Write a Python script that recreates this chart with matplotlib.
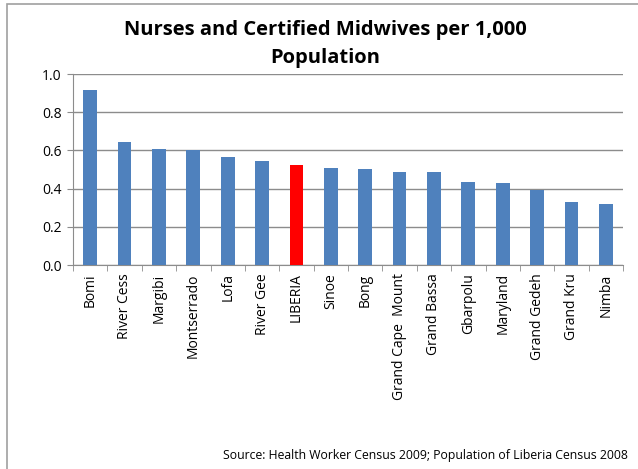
import matplotlib
matplotlib.use("Agg")
import matplotlib.pyplot as plt
from matplotlib.patches import Rectangle
import numpy as np

counties = ["Bomi", "River Cess", "Margibi", "Montserrado", "Lofa", "River Gee",
            "LIBERIA", "Sinoe", "Bong", "Grand Cape  Mount", "Grand Bassa",
            "Gbarpolu", "Maryland", "Grand Gedeh", "Grand Kru", "Nimba"]
values = [0.914, 0.642, 0.605, 0.600, 0.563, 0.544, 0.523, 0.509, 0.502,
          0.486, 0.486, 0.437, 0.430, 0.395, 0.332, 0.318]
yticks = [0.0, 0.2, 0.4, 0.6, 0.8, 1.0]

plt.rcParams['font.family'] = ['Open Sans', 'DejaVu Sans']

fig = plt.figure(figsize=(6.38, 4.69), dpi=100)
ax = fig.add_axes([73/638, 1 - 265/469, 550/638, 191/469])

colors = ['#FF0000' if c == 'LIBERIA' else '#4F81BD' for c in counties]
x = np.arange(len(counties))
ax.bar(x, values, width=0.4, color=colors, zorder=3)

ax.set_xlim(-0.5, len(counties) - 0.5)
ax.set_ylim(0, 1.0)
ax.set_yticks(yticks)
ax.set_yticklabels([f"{v:.1f}" for v in yticks], fontsize=10)
ax.yaxis.grid(True, color='#8C8C8C', linewidth=1.0, zorder=0)

ax.set_xticks(x)
ax.set_xticklabels(counties, rotation=90, fontsize=10)
ax.tick_params(axis='x', length=0, pad=6)
ax.set_xticks(np.arange(-0.5, len(counties), 1), minor=True)
ax.tick_params(axis='x', which='minor', length=4, color='#8C8C8C')
ax.tick_params(axis='y', length=4, color='#8C8C8C', pad=4)

for s in ['top', 'right']:
    ax.spines[s].set_visible(False)
for s in ['left', 'bottom']:
    ax.spines[s].set_color('#8C8C8C')

fig.text(0.51, 1 - 44/469, "Nurses and Certified Midwives per 1,000\nPopulation",
         ha='center', va='center', fontsize=14.5, fontweight='bold', linespacing=1.55)
fig.text(628/638, 1 - 455/469,
         "Source: Health Worker Census 2009; Population of Liberia Census 2008",
         ha='right', va='center', fontsize=8.8)

fig.patches.append(Rectangle((6.5/638, -0.1), 1.2, (1 - 4.5/469) + 0.1,
                             transform=fig.transFigure, fill=False,
                             edgecolor='#A0A0A0', linewidth=1.2))

fig.savefig("out.png", dpi=100)
